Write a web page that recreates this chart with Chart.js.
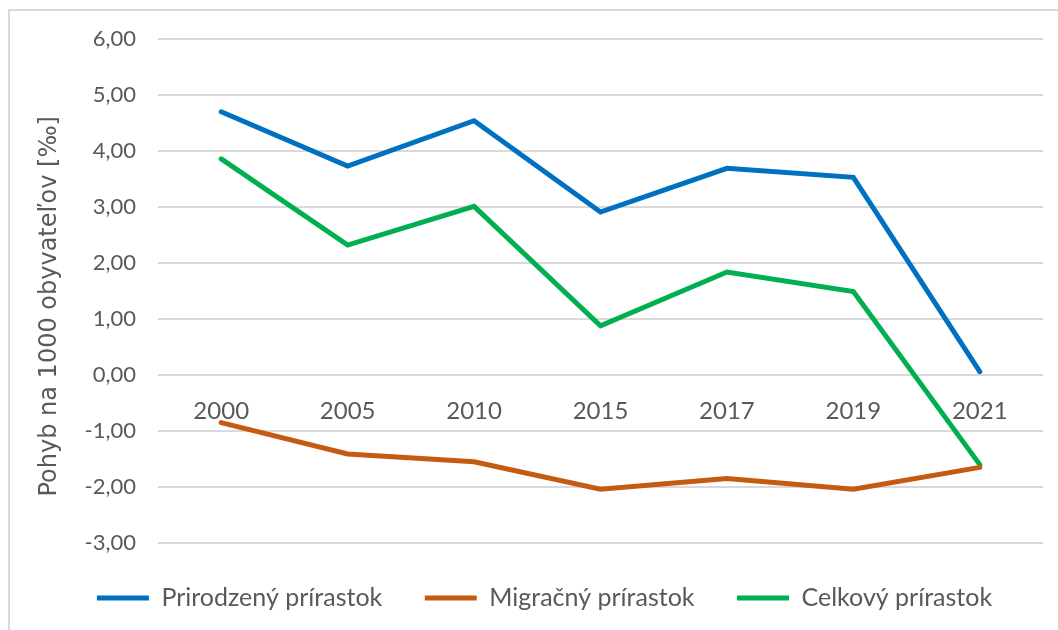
<!DOCTYPE html>
<html>
<head>
<meta charset="utf-8">
<script src="https://cdn.jsdelivr.net/npm/chart.js@4/dist/chart.umd.min.js"></script>
<style>
  html, body { margin: 0; padding: 0; background: #ffffff; }
  #wrap { position: relative; width: 1058px; height: 630px; overflow: hidden; background: #ffffff; }
  #frame { position: absolute; left: 8px; top: 9px; width: 1100px; height: 700px; border-left: 2px solid #d9d9d9; border-top: 2px solid #d9d9d9; box-sizing: border-box; }
  canvas { position: absolute; left: 0; top: 0; }
</style>
</head>
<body>
<div id="wrap">
  <div id="frame"></div>
  <canvas id="c" width="1058" height="630"></canvas>
</div>
<script>
const years = ['2000', '2005', '2010', '2015', '2017', '2019', '2021'];
const prirodzeny = [4.70, 3.73, 4.54, 2.91, 3.69, 3.53, 0.06];
const migracny = [-0.85, -1.41, -1.55, -2.04, -1.85, -2.04, -1.65];
const celkovy = [3.86, 2.32, 3.01, 0.88, 1.84, 1.49, -1.60];
const seriesNames = ['Prirodzený prírastok', 'Migračný prírastok', 'Celkový prírastok'];
const yTitle = 'Pohyb na 1000 obyvateľov [‰]\u00a0\u00a0\u00a0\u00a0';

const textColor = '#595959';
const gridColor = '#d9d9d9';

function ds(label, data, color) {
  return {
    label: label,
    data: data,
    borderColor: color,
    backgroundColor: color,
    borderWidth: 5,
    borderCapStyle: 'round',
    borderJoinStyle: 'miter',
    pointRadius: 0,
    pointHoverRadius: 0,
    tension: 0,
    fill: false
  };
}

new Chart(document.getElementById('c'), {
  type: 'line',
  data: {
    labels: years,
    datasets: [
      ds(seriesNames[0], prirodzeny, '#0070C0'),
      ds(seriesNames[1], migracny, '#C55A11'),
      ds(seriesNames[2], celkovy, '#00B050')
    ]
  },
  options: {
    responsive: false,
    animation: false,
    layout: { padding: { left: 46, right: 15, top: 39, bottom: 9.5 } },
    plugins: {
      tooltip: { enabled: false },
      legend: {
        position: 'bottom',
        labels: {
          usePointStyle: true,
          pointStyle: 'line',
          pointStyleWidth: 52,
          padding: 42.5,
          color: textColor,
          font: { family: 'Lato', size: 25 }
        }
      }
    },
    scales: {
      x: {
        type: 'category',
        offset: true,
        position: { y: 0 },
        grid: { display: false, drawTicks: false },
        border: { display: false },
        ticks: {
          padding: 22,
          color: textColor,
          font: { family: 'Lato', size: 24 },
          maxRotation: 0,
          autoSkip: false
        }
      },
      y: {
        min: -3,
        max: 6,
        grid: { color: gridColor, lineWidth: 2, drawTicks: false },
        border: { display: false },
        ticks: {
          stepSize: 1,
          padding: 22,
          color: textColor,
          font: { family: 'Lato', size: 22 },
          callback: v => v.toFixed(2).replace('.', ',')
        },
        title: {
          display: true,
          text: yTitle,
          color: textColor,
          font: { family: 'DejaVu Sans', size: 24 },
          padding: { top: -11, bottom: 0 }
        },
        afterFit: s => { s.width = 112; }
      }
    }
  }
});
</script>
</body>
</html>
